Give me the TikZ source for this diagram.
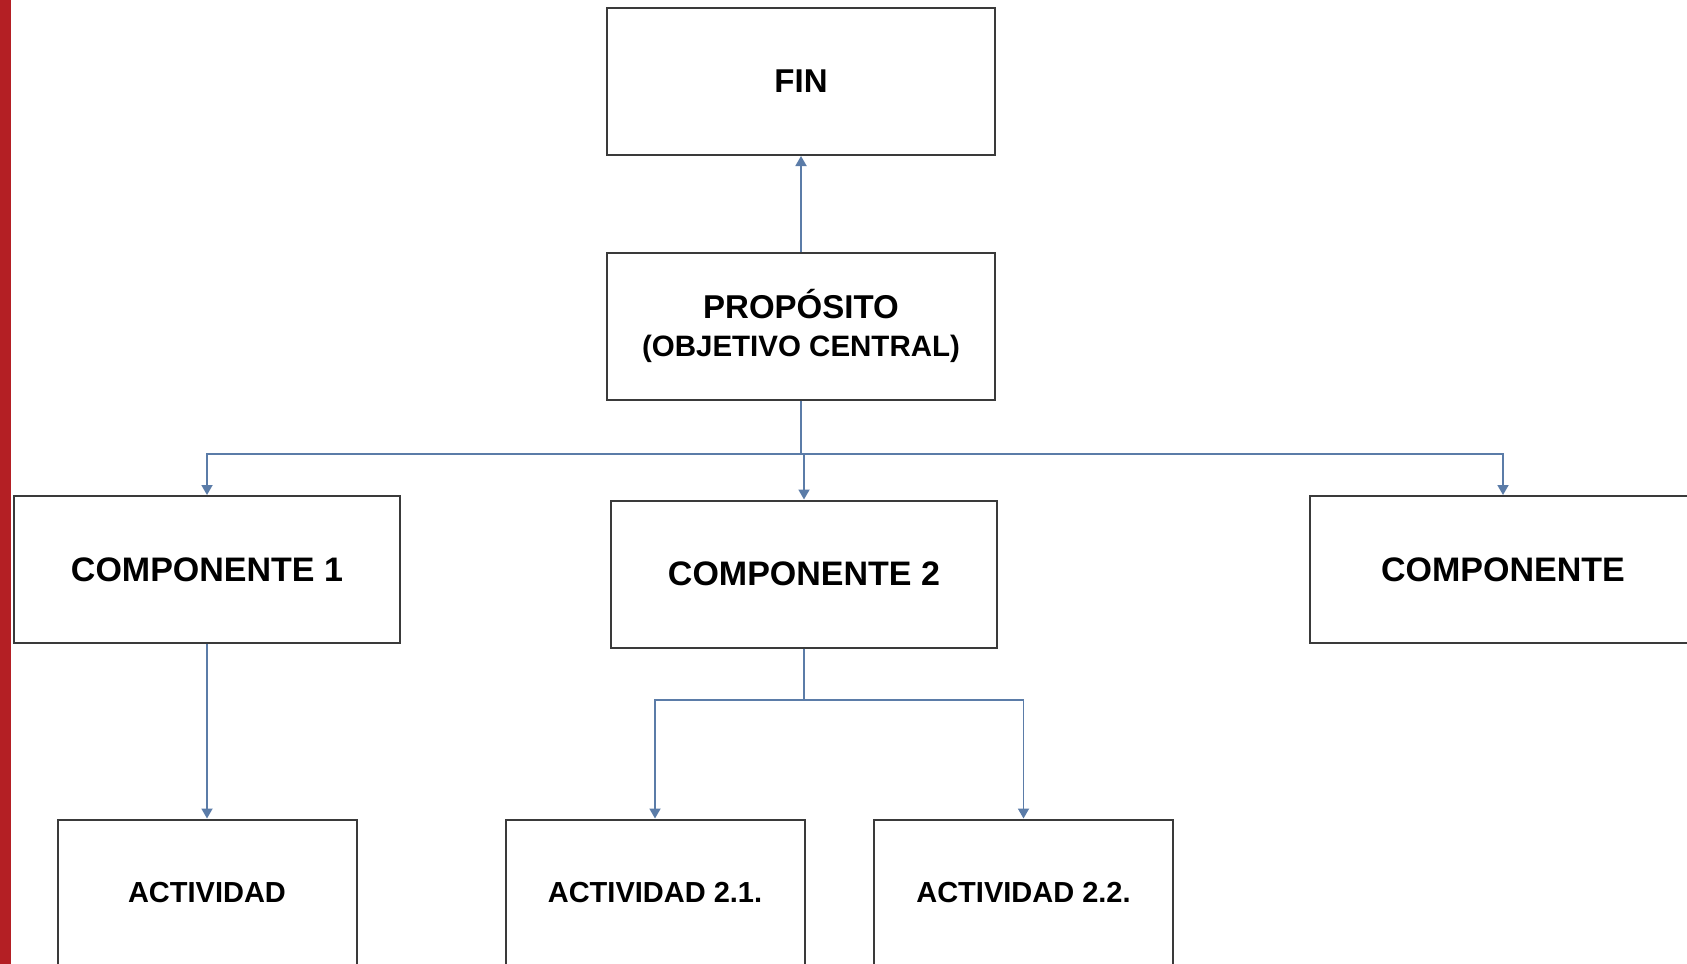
\documentclass[tikz,border=0pt]{standalone}
\usepackage{fontspec}
\setmainfont{Liberation Sans}
\usetikzlibrary{arrows.meta}
\definecolor{barred}{HTML}{B41F24}
\definecolor{conncol}{HTML}{5B7CA8}
\definecolor{boxcol}{HTML}{3A3A3A}
\tikzset{
  box/.style={draw=boxcol, line width=2pt, fill=white, inner sep=0pt, align=center, font=\bfseries},
  bigbox/.style={box, minimum width=388pt, minimum height=147pt},
  compbox/.style={box, minimum width=386pt, minimum height=147pt, font=\bfseries\fontsize{34}{40}\selectfont},
  actbox/.style={box, minimum width=299pt, minimum height=147pt, font=\bfseries\fontsize{29}{34}\selectfont},
  conn/.style={draw=conncol, line width=1.8pt, -{Triangle[width=11pt,length=10pt,fill=conncol]}},
  plainconn/.style={draw=conncol, line width=1.8pt}
}
\begin{document}
\begin{tikzpicture}[x=1pt,y=-1pt]
\useasboundingbox (0,0) rectangle (1687,964);
\fill[white] (0,0) rectangle (1687,964);
\fill[barred] (0,0) rectangle (11,964);

\node[bigbox, font=\bfseries\fontsize{33}{38}\selectfont] (fin) at (801,81.5) {FIN};
\node[bigbox, font=\bfseries\fontsize{33}{38}\selectfont] (prop) at (801,326) {PROPÓSITO\\{\fontsize{29.5}{38}\selectfont (OBJETIVO CENTRAL)}};

\node[compbox] (comp1) at (207,569.5) {COMPONENTE 1};
\node[compbox] (comp2) at (804,574) {COMPONENTE 2};
\node[compbox] (comp3) at (1503,569.5) {COMPONENTE};

\node[actbox] (act1) at (207,893) {ACTIVIDAD};
\node[actbox] (act21) at (655,893) {ACTIVIDAD 2.1.};
\node[actbox] (act22) at (1023.5,893) {ACTIVIDAD 2.2.};

\coordinate (bus) at (801,454);
\coordinate (bus2) at (804,700);

\draw[conn] (prop.north) -- (fin.south);
\draw[plainconn] (prop.south) -- (bus);
\draw[conn] (bus) -| (comp1.north);
\draw[conn] (bus) -| (comp3.north);
\draw[conn] (comp2.north |- bus) -- (comp2.north);

\draw[conn] (comp1.south) -- (act1.north);
\draw[plainconn] (comp2.south) -- (bus2);
\draw[conn] (bus2) -| (act21.north);
\draw[conn] (bus2) -| (act22.north);
\end{tikzpicture}
\end{document}
